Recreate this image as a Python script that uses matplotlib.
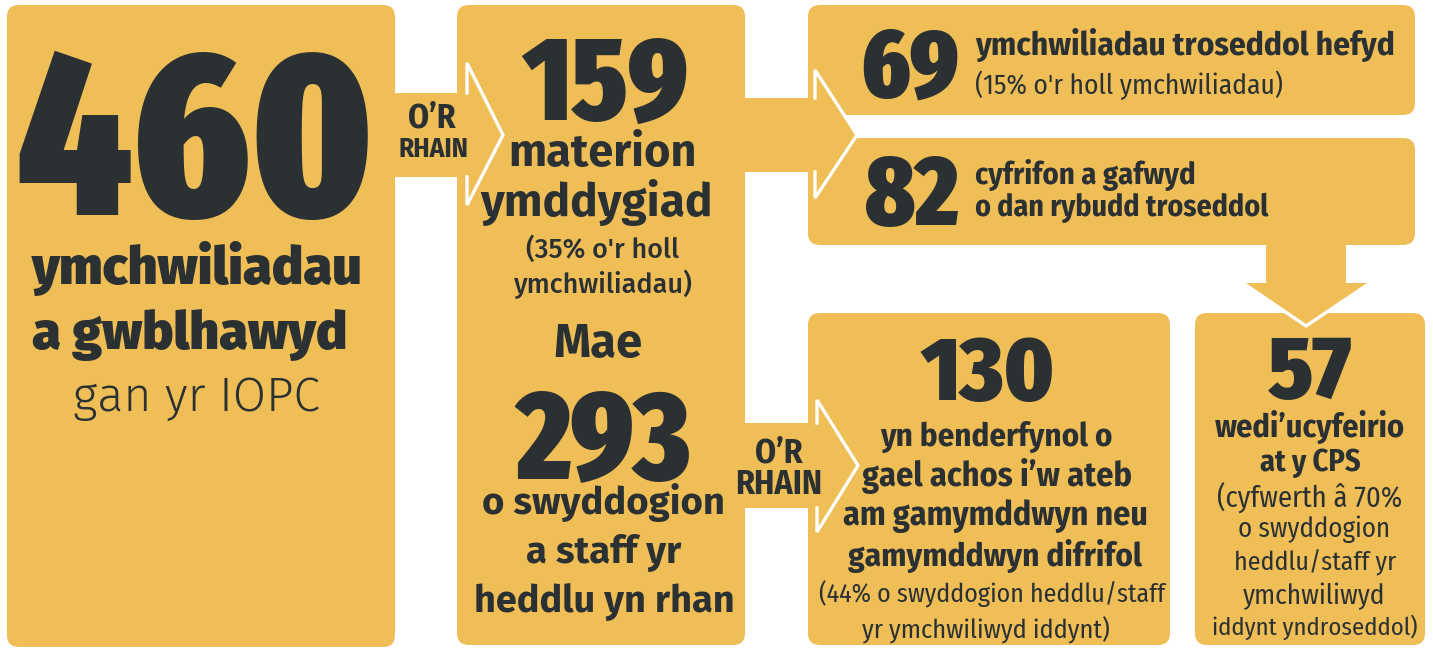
import matplotlib
matplotlib.use("Agg")
import matplotlib.pyplot as plt
from matplotlib.patches import FancyBboxPatch, Polygon, Rectangle

# ---------------- data ----------------
investigations_completed = 460
conduct_matters = 159
conduct_pct = 35
officers_involved = 293
criminal_investigations = 69
criminal_pct = 15
criminal_caution = 82
case_to_answer = 130
case_pct = 44
referred_cps = 57
referred_pct = 70

W, H = 1433, 649
GOLD = "#EFBE57"
INK = "#2B3133"

fig = plt.figure(figsize=(W / 100, H / 100), dpi=100, facecolor="white")
ax = fig.add_axes([0, 0, 1, 1])
ax.set_xlim(0, W)
ax.set_ylim(H, 0)
ax.axis("off")
renderer = fig.canvas.get_renderer()

XCOND = ["Fira Sans Extra Condensed", "Fira Sans Condensed", "DejaVu Sans"]
COND = ["Fira Sans Condensed", "DejaVu Sans"]
WIDE = ["Fira Sans", "DejaVu Sans"]
STYLES = {
    "xnum": dict(family=XCOND, weight=900),
    "num": dict(family=COND, weight=900),
    "nbold": dict(family=COND, weight=700),
    "nreg": dict(family=COND, weight=400),
    "wblack": dict(family=WIDE, weight=900),
    "wbold": dict(family=WIDE, weight=700),
    "wmed": dict(family=WIDE, weight=500),
    "wlight": dict(family=WIDE, weight=300),
}

# ---------------- boxes ----------------
boxes = [(7, 5, 395, 647), (457, 5, 745, 645), (808, 5, 1415, 115),
         (808, 138, 1415, 245), (808, 313, 1170, 645), (1195, 313, 1425, 645)]
for x0, y0, x1, y1 in boxes:
    ax.add_patch(FancyBboxPatch((x0, y0), x1 - x0, y1 - y0,
                                boxstyle="round,pad=0,rounding_size=12",
                                fc=GOLD, ec="none", zorder=1))


# ---------------- arrows ----------------
def right_arrow(sx0, sy0, sy1, hx, hy0, hy1, tipx):
    ym = (sy0 + sy1) / 2
    ax.add_patch(Rectangle((sx0, sy0), hx + 2 - sx0, sy1 - sy0, fc=GOLD, ec="none", zorder=2))
    ax.add_patch(Polygon([(hx, hy0), (tipx, ym), (hx, hy1)], closed=True, fc=GOLD, ec="none", zorder=2))
    ax.plot([hx, hx, tipx, hx, hx], [sy0, hy0, ym, hy1, sy1], color="white", lw=2.4,
            solid_joinstyle="miter", zorder=3)


def down_arrow(sx0, sx1, sy0, hy, hx0, hx1, tipy):
    xm = (sx0 + sx1) / 2
    ax.add_patch(Rectangle((sx0, sy0), sx1 - sx0, hy + 2 - sy0, fc=GOLD, ec="none", zorder=2))
    ax.add_patch(Polygon([(hx0, hy), (xm, tipy), (hx1, hy)], closed=True, fc=GOLD, ec="none", zorder=2))
    ax.plot([hx0, xm, hx1], [hy, tipy, hy], color="white", lw=2.4,
            solid_joinstyle="miter", zorder=3)


right_arrow(390, 93, 177, 467, 63, 205, 503)
right_arrow(740, 98, 172, 815, 70, 198, 857)
right_arrow(740, 423, 508, 817, 400, 532, 858)
down_arrow(1266, 1346, 240, 283, 1243, 1370, 326)


# ---------------- text ----------------
def fit(s, x, y, width, style, ha="center", va="center"):
    t = ax.text(x, y, s, fontsize=20, ha=ha, va=va, color=INK, zorder=5, **STYLES[style])
    w = t.get_window_extent(renderer).width
    t.set_fontsize(20 * width / w)
    return t


# box 1
fit(f"{investigations_completed}", 196, 215, 356, "xnum", va="baseline")
fit("ymchwiliadau", 197, 268, 330, "wblack")
fit("a gwblhawyd", 190, 335, 315, "wblack")
fit("gan yr IOPC", 197, 398, 247, "wlight")

# arrow labels
fit("O’R", 432, 118, 48, "nbold")
fit("RHAIN", 434, 149, 70, "nbold")
fit("O’R", 779, 453, 48, "nbold")
fit("RHAIN", 779, 485, 87, "nbold")

# box 2
fit(f"{conduct_matters}", 605, 120, 165, "xnum", va="baseline")
fit("materion", 603, 154, 189, "wbold")
fit("ymddygiad", 597, 203, 232, "wbold")
fit(f"({conduct_pct}% o'r holl", 603, 250, 153, "wmed")
fit("ymchwiliadau)", 603, 284, 178, "wmed")
fit("Mae", 598, 345, 89, "wbold")
fit(f"{officers_involved}", 604, 478, 175, "xnum", va="baseline")
fit("o swyddogion", 603, 503, 243, "wbold")
fit("a staff yr", 604, 553, 156, "wbold")
fit("heddlu yn rhan", 604, 602, 262, "wbold")

# box 3
fit(f"{criminal_investigations}", 910, 97, 98, "xnum", va="baseline")
fit("ymchwiliadau troseddol hefyd", 975, 45, 420, "nbold", ha="left")
fit(f"({criminal_pct}% o'r holl ymchwiliadau)", 975, 85, 307, "nreg", ha="left")

# box 4
fit(f"{criminal_caution}", 912, 225, 94, "xnum", va="baseline")
fit("cyfrifon a gafwyd", 975, 175, 221, "nbold", ha="left")
fit("o dan rybudd troseddol", 975, 208, 294, "nbold", ha="left")

# box 5
fit(f"{case_to_answer}", 988, 400, 135, "num", va="baseline")
fit("yn benderfynol o", 996, 437, 232, "nbold")
fit("gael achos i’w ateb", 997, 476, 270, "nbold")
fit("am gamymddwyn neu", 995, 516, 306, "nbold")
fit("gamymddwyn difrifol", 995, 556, 295, "nbold")
fit(f"({case_pct}% o swyddogion heddlu/staff", 992, 594, 345, "nreg")
fit("yr ymchwiliwyd iddynt)", 986, 630, 248, "nreg")

# box 6
fit(f"{referred_cps}", 1310, 398, 85, "num", va="baseline")
fit("wedi’ucyfeirio", 1310, 427, 190, "nbold")
fit("at y CPS", 1310, 463, 101, "nbold")
fit(f"(cyfwerth â {referred_pct}%", 1310, 497, 185, "nreg")
fit("o swyddogion", 1314, 529, 152, "nreg")
fit("heddlu/staff yr", 1315, 563, 162, "nreg")
fit("ymchwiliwyd", 1314, 596, 142, "nreg")
fit("iddynt yndroseddol)", 1315, 627, 205, "nreg")

fig.savefig("out.png", dpi=100, facecolor="white")
